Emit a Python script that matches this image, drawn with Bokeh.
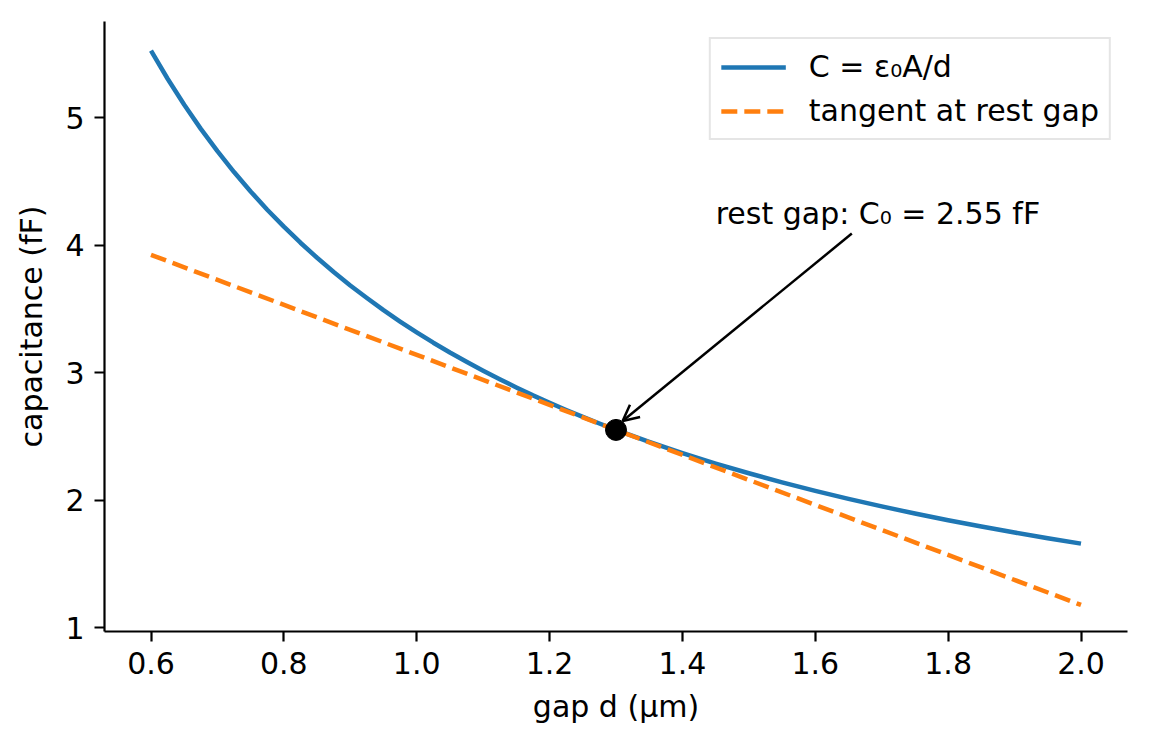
from bokeh.plotting import figure
from bokeh.models import (FixedTicker, PrintfTickFormatter, Legend, LegendItem,
                          Label, Arrow, OpenHead, Range1d)
from bokeh.embed import file_html
from bokeh.resources import INLINE

# ---- data ----
gap_um = [0.600, 0.625, 0.650, 0.675, 0.700, 0.725, 0.750, 0.775, 0.800,
          0.825, 0.850, 0.875, 0.900, 0.925, 0.950, 0.975, 1.000, 1.025,
          1.050, 1.075, 1.100, 1.125, 1.150, 1.175, 1.200, 1.225, 1.250,
          1.275, 1.300, 1.350, 1.400, 1.450, 1.500, 1.550, 1.600, 1.650,
          1.700, 1.750, 1.800, 1.850, 1.900, 1.950, 2.000]
cap_fF = [5.525, 5.304, 5.100, 4.911, 4.736, 4.572, 4.420, 4.277, 4.144,
          4.018, 3.900, 3.789, 3.683, 3.584, 3.489, 3.400, 3.315, 3.234,
          3.157, 3.084, 3.014, 2.947, 2.883, 2.821, 2.763, 2.706, 2.652,
          2.600, 2.550, 2.456, 2.368, 2.286, 2.210, 2.139, 2.072, 2.009,
          1.950, 1.894, 1.842, 1.792, 1.745, 1.700, 1.658]
tangent_gap = [0.60, 2.00]
tangent_cap = [3.923, 1.177]
rest_gap = [1.30]
rest_cap = [2.55]
annot_text = "rest gap: C\u2080 = 2.55 fF"
annot_xy = (1.45, 4.25)
arrow_from = (1.655, 4.09)
arrow_to = (1.31, 2.62)
x_ticks = [0.6, 0.8, 1.0, 1.2, 1.4, 1.6, 1.8, 2.0]
y_ticks = [1, 2, 3, 4, 5]

FONT = "DejaVu Sans"
FS = "30px"
BLUE = "#1f77b4"
ORANGE = "#ff7f0e"

p = figure(frame_width=1023, frame_height=610, output_backend="svg",
           toolbar_location=None,
           x_range=Range1d(0.53, 2.07), y_range=Range1d(0.969, 5.753),
           min_border_left=104, min_border_right=14, min_border_top=21,
           min_border_bottom=100)
p.outline_line_color = None
p.grid.visible = False
p.background_fill_color = "white"

r_curve = p.line(gap_um, cap_fF, line_color=BLUE, line_width=4.5,
                 line_join="round")
r_tan = p.line(tangent_gap, tangent_cap, line_color=ORANGE, line_width=4.5,
               line_dash="16 7")
p.scatter(rest_gap, rest_cap, size=21, fill_color="black", line_color="black")

p.add_layout(Arrow(end=OpenHead(size=16, line_width=2.5, line_color="black"),
                   x_start=arrow_from[0], y_start=arrow_from[1],
                   x_end=arrow_to[0], y_end=arrow_to[1],
                   line_width=2.5, line_color="black"))
p.add_layout(Label(x=annot_xy[0], y=annot_xy[1], text=annot_text,
                   text_font=FONT, text_font_size=FS, text_color="black",
                   text_baseline="alphabetic", text_align="left"))

for ax in (p.xaxis[0], p.yaxis[0]):
    ax.axis_line_width = 2.2
    ax.major_tick_line_width = 2.2
    ax.major_tick_out = 10
    ax.major_tick_in = 0
    ax.minor_tick_out = 0
    ax.minor_tick_in = 0
    ax.major_label_text_font = FONT
    ax.major_label_text_font_size = FS
    ax.major_label_text_color = "black"
    ax.axis_label_text_font = FONT
    ax.axis_label_text_font_size = FS
    ax.axis_label_text_font_style = "normal"
    ax.axis_label_text_color = "black"
    ax.major_label_standoff = 10

p.xaxis[0].ticker = FixedTicker(ticks=x_ticks)
p.xaxis[0].formatter = PrintfTickFormatter(format="%.1f")
p.xaxis[0].axis_label = "gap d (\u03bcm)"
p.xaxis[0].axis_label_standoff = 12

p.yaxis[0].ticker = FixedTicker(ticks=y_ticks)
p.yaxis[0].formatter = PrintfTickFormatter(format="%d")
p.yaxis[0].axis_label = "capacitance (fF)"
p.yaxis[0].axis_label_standoff = 13

legend = Legend(items=[LegendItem(label="C = \u03b5\u2080A/d", renderers=[r_curve]),
                       LegendItem(label="tangent at rest gap", renderers=[r_tan])],
                location="top_right", margin=16, padding=10, spacing=9,
                glyph_width=65, glyph_height=30, label_standoff=23,
                label_text_font=FONT, label_text_font_size=FS,
                label_text_color="black",
                border_line_color="#cccccc", border_line_width=2,
                background_fill_alpha=0.8)
p.add_layout(legend)

open("out.html", "w").write(file_html(p, INLINE))
